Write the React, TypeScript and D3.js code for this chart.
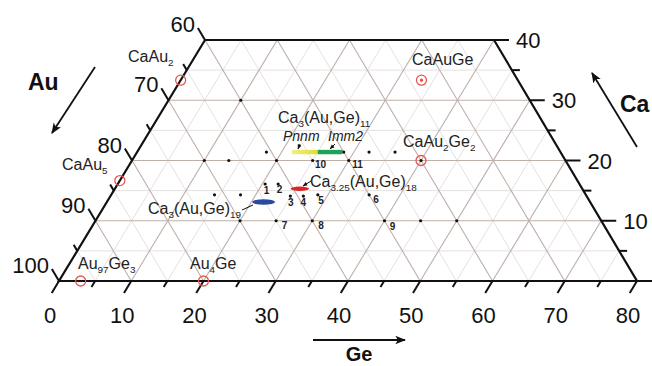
import React from 'react';
import * as d3 from 'd3';

const W = 652;
const H = 366;

// composition is given as [Ge %, Ca %]; Au = 100 - Ge - Ca
const geTicks = d3.range(0, 81, 5);
const caTicks = d3.range(0, 41, 5);
const auTicks = d3.range(60, 101, 5);

type Part = [string, boolean?];

// binary / ternary compounds (red open circles)
const compounds: { ge: number; ca: number; center: string | null; label: Part[]; lx: number; ly: number }[] = [
  { ge: 0, ca: 33.33, center: null, label: [['CaAu'], ['2', true]], lx: 128, ly: 62 },
  { ge: 0, ca: 16.67, center: null, label: [['CaAu'], ['5', true]], lx: 62, ly: 170 },
  { ge: 3, ca: 0, center: null, label: [['Au'], ['97', true], ['Ge'], ['3', true]], lx: 78, ly: 269 },
  { ge: 20, ca: 0, center: null, label: [['Au'], ['4', true], ['Ge']], lx: 190, ly: 269 },
  { ge: 33.33, ca: 33.33, center: '#e0504a', label: [['CaAuGe']], lx: 412, ly: 65 },
  { ge: 40, ca: 20, center: '#111', label: [['CaAu'], ['2', true], ['Ge'], ['2', true]], lx: 403, ly: 147 },
];

// loaded sample compositions (black dots)
const samples: [number, number][] = [
  [10, 30], [10, 20], [13.4, 20], [20, 20], [25, 20], [30, 20],
  [17.9, 21.4], [28.6, 21.4], [32.1, 21.4], [35.7, 21.4],
  [20.4, 16.1], [22.2, 16.1], [14.3, 14.3], [17.9, 14.3],
  [24.9, 14.1], [26.7, 14.1], [28.6, 14.3], [35.7, 14.3],
  [20, 10], [25, 10], [30, 10], [40, 10], [45, 10], [50, 10],
];

const sampleNums: { n: string; x: number; y: number }[] = [
  { n: '1', x: 266.5, y: 194 },
  { n: '2', x: 279.5, y: 193 },
  { n: '3', x: 290.7, y: 206 },
  { n: '4', x: 303.3, y: 206 },
  { n: '5', x: 321, y: 204 },
  { n: '6', x: 376, y: 202.5 },
  { n: '7', x: 284.5, y: 228.5 },
  { n: '8', x: 321, y: 229 },
  { n: '9', x: 392.5, y: 229.5 },
  { n: '10', x: 320.5, y: 167.5 },
  { n: '11', x: 357.5, y: 167.5 },
];

// Ca3(Au,Ge)11 homogeneity range: Pnnm then Imm2
const bar11 = { ca: 21.4, geStart: 21.4, geSplit: 25, geEnd: 28.4 };
// phase widths drawn as ellipses
const ellipses = [
  { ge: 21.7, ca: 13.1, rx: 11.5, ry: 2.8, color: '#2a4a9e' },
  { ge: 25.6, ca: 15.3, rx: 9.3, ry: 2.2, color: '#d9262a' },
];

const xGe = d3.scaleLinear().domain([0, 80]).range([59, 637]);
const xCa = d3.scaleLinear().domain([0, 40]).range([0, 146]);
const yCa = d3.scaleLinear().domain([0, 40]).range([281, 40]);
const pt = (ge: number, ca: number): [number, number] => [xGe(ge) + xCa(ca), yCa(ca)];

const unit = (dx: number, dy: number) => {
  const l = Math.hypot(dx, dy);
  return [dx / l, dy / l];
};
// tick directions
const dGe = unit(-(xCa(1) - xCa(0)), yCa(0) - yCa(1));
const dAu = unit(-(xGe(1) - xGe(0)) + (xCa(1) - xCa(0)), yCa(1) - yCa(0));

const FONT = 'Liberation Sans, Arial, sans-serif';

const Label = ({ parts, x, y, size = 16, italic = false }: { parts: Part[]; x: number; y: number; size?: number; italic?: boolean }) => {
  let shift = 0;
  return (
    <text x={x} y={y} fontSize={size} fontFamily={FONT} fill="#222" fontStyle={italic ? 'italic' : 'normal'}>
      {parts.map(([t, sub], i) => {
        const dy = (sub ? 4 : 0) - shift;
        shift = sub ? 4 : 0;
        return (
          <tspan key={i} dy={dy} fontSize={sub ? size * 0.62 : size}>
            {t}
          </tspan>
        );
      })}
    </text>
  );
};

const Arrow = ({ x1, y1, x2, y2 }: { x1: number; y1: number; x2: number; y2: number }) => (
  <line x1={x1} y1={y1} x2={x2} y2={y2} stroke="#111" strokeWidth={1.8} markerEnd="url(#head)" />
);

export default function App() {
  const grid: { a: [number, number]; b: [number, number]; major: boolean }[] = [];
  d3.range(5, 80, 5).forEach((g) => grid.push({ a: pt(g, 0), b: pt(g, Math.min(40, 80 - g)), major: g % 10 === 0 }));
  d3.range(5, 40, 5).forEach((c) => grid.push({ a: pt(0, c), b: pt(80 - c, c), major: c % 10 === 0 }));
  d3.range(25, 100, 5).forEach((a) => {
    const s = 100 - a;
    const top = Math.min(40, s);
    grid.push({ a: pt(s, 0), b: pt(s - top, top), major: a % 10 === 0 });
  });

  const outline = [pt(0, 0), pt(80, 0), pt(40, 40), pt(0, 40)];
  const barY = yCa(bar11.ca);

  return (
    <svg width={W} height={H} style={{ position: 'absolute', left: 0, top: 0, background: '#fff' }}>
      <defs>
        <marker id="head" viewBox="0 0 10 10" refX="9" refY="5" markerWidth="6" markerHeight="6" orient="auto">
          <path d="M0,1 L10,5 L0,9 L2.5,5 Z" fill="#111" />
        </marker>
        <marker id="small" viewBox="0 0 10 10" refX="9" refY="5" markerWidth="5" markerHeight="5" orient="auto">
          <path d="M0,1 L10,5 L0,9 Z" fill="#111" />
        </marker>
        <linearGradient id="pnnm" x1="0" x2="1">
          <stop offset="0" stopColor="#f2ee8a" />
          <stop offset="1" stopColor="#e2dc2c" />
        </linearGradient>
      </defs>

      {grid.filter((l) => !l.major).map((l, i) => (
        <line key={'m' + i} x1={l.a[0]} y1={l.a[1]} x2={l.b[0]} y2={l.b[1]} stroke="#e4e1e1" strokeWidth={1} />
      ))}
      {grid.filter((l) => l.major).map((l, i) => (
        <line key={'M' + i} x1={l.a[0]} y1={l.a[1]} x2={l.b[0]} y2={l.b[1]} stroke="#bfafa9" strokeWidth={1.1} />
      ))}

      <polygon points={outline.map((p) => p.join(',')).join(' ')} fill="none" stroke="#111" strokeWidth={2.2} strokeLinejoin="miter" />

      {/* Ge axis ticks */}
      {geTicks.map((g) => {
        const [x, y] = pt(g, 0);
        const len = g % 10 === 0 ? 14 : 7;
        return <line key={'tg' + g} x1={x} y1={y} x2={x + dGe[0] * len} y2={y + dGe[1] * len} stroke="#111" strokeWidth={2} />;
      })}
      {geTicks.filter((g) => g % 10 === 0).map((g) => (
        <text key={'lg' + g} x={xGe(g) - 9} y={323} textAnchor="middle" fontSize={22} fontFamily={FONT} fill="#111">
          {g}
        </text>
      ))}

      {/* Au axis ticks */}
      {auTicks.map((a) => {
        const [x, y] = pt(0, 100 - a);
        const len = a % 10 === 0 ? 14 : 7;
        return <line key={'ta' + a} x1={x} y1={y} x2={x + dAu[0] * len} y2={y + dAu[1] * len} stroke="#111" strokeWidth={2} />;
      })}
      {auTicks.filter((a) => a % 10 === 0).map((a) => {
        const [x, y] = pt(0, 100 - a);
        return (
          <text key={'la' + a} x={x - 10} y={y - 8} textAnchor="end" fontSize={22} fontFamily={FONT} fill="#111">
            {a}
          </text>
        );
      })}

      {/* Ca axis ticks */}
      {caTicks.map((c) => {
        const [x, y] = pt(80 - c, c);
        const len = c % 10 === 0 ? 15 : 8;
        return <line key={'tc' + c} x1={x} y1={y} x2={x + len} y2={y} stroke="#111" strokeWidth={2} />;
      })}
      {caTicks.filter((c) => c % 10 === 0 && c > 0).map((c) => {
        const [x, y] = pt(80 - c, c);
        return (
          <text key={'lc' + c} x={x + 22} y={y + 8} fontSize={22} fontFamily={FONT} fill="#111">
            {c}
          </text>
        );
      })}

      {/* axis titles */}
      <Arrow x1={95} y1={67} x2={52} y2={133} />
      <text x={28} y={90} fontSize={23} fontWeight="bold" fontFamily={FONT} fill="#111">Au</text>
      <Arrow x1={637} y1={147} x2={592} y2={73} />
      <text x={620} y={112} fontSize={23} fontWeight="bold" fontFamily={FONT} fill="#111">Ca</text>
      <Arrow x1={313} y1={340} x2={405} y2={340} />
      <text x={359} y={361} textAnchor="middle" fontSize={20} fontWeight="bold" fontFamily={FONT} fill="#111">Ge</text>

      {/* Ca3(Au,Ge)11 range */}
      <rect x={pt(bar11.geStart, bar11.ca)[0]} y={barY - 2.2} width={pt(bar11.geSplit, 0)[0] - pt(bar11.geStart, 0)[0]} height={4.4} fill="url(#pnnm)" />
      <rect x={pt(bar11.geSplit, bar11.ca)[0]} y={barY - 2.2} width={pt(bar11.geEnd, 0)[0] - pt(bar11.geSplit, 0)[0]} height={4.4} fill="#1ea25a" />

      {ellipses.map((e, i) => {
        const [x, y] = pt(e.ge, e.ca);
        return <ellipse key={'e' + i} cx={x} cy={y} rx={e.rx} ry={e.ry} fill={e.color} />;
      })}

      {samples.map(([g, c], i) => {
        const [x, y] = pt(g, c);
        return <circle key={'s' + i} cx={x} cy={y} r={1.6} fill="#111" />;
      })}

      {compounds.map((c, i) => {
        const [x, y] = pt(c.ge, c.ca);
        return (
          <g key={'c' + i}>
            <circle cx={x} cy={y} r={5} fill="none" stroke="#e5574f" strokeWidth={1.3} />
            {c.center && <circle cx={x} cy={y} r={1.6} fill={c.center} />}
            <Label parts={c.label} x={c.lx} y={c.ly} />
          </g>
        );
      })}

      {sampleNums.map((s) => (
        <text key={'n' + s.n} x={s.x} y={s.y} textAnchor="middle" fontSize={10} fontWeight="bold" fontFamily={FONT} fill="#222">
          {s.n}
        </text>
      ))}

      {/* phase labels */}
      <Label parts={[['Ca'], ['3', true], ['(Au,Ge)'], ['11', true]]} x={278} y={123} />
      <Label parts={[['Pnnm']]} x={283} y={141} size={14} italic />
      <Label parts={[['Imm2']]} x={328} y={141} size={14} italic />
      <line x1={300} y1={144} x2={298} y2={149} stroke="#111" strokeWidth={1} markerEnd="url(#small)" />
      <line x1={335} y1={144} x2={330} y2={149} stroke="#111" strokeWidth={1} markerEnd="url(#small)" />
      <Label parts={[['Ca'], ['3.25', true], ['(Au,Ge)'], ['18', true]]} x={310} y={187} />
      <line x1={311} y1={181} x2={303} y2={186} stroke="#111" strokeWidth={1} markerEnd="url(#small)" />
      <Label parts={[['Ca'], ['3', true], ['(Au,Ge)'], ['19', true]]} x={148} y={214} />
      <line x1={242} y1={210} x2={253} y2={205} stroke="#111" strokeWidth={1} />
    </svg>
  );
}
